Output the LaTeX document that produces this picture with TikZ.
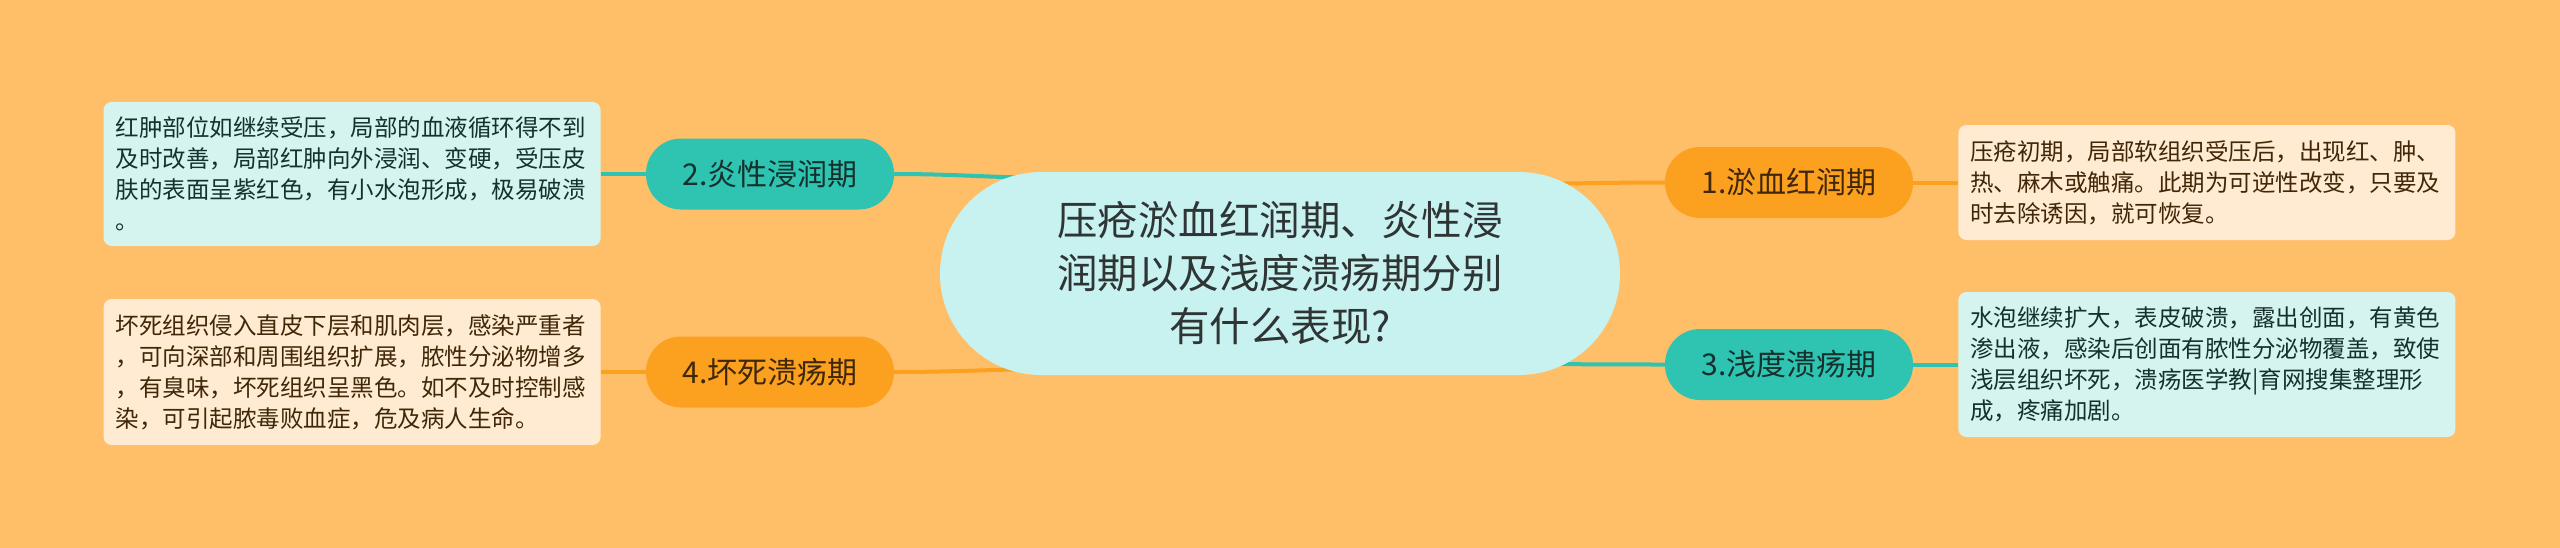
\documentclass[tikz,border=0pt]{standalone}
\usepackage{fontspec}
\newfontfamily\cjk{Noto Sans CJK SC}
\usepackage{xcolor}
\usepackage{tikz}
\usetikzlibrary{positioning}

\definecolor{bgorange}{HTML}{FFBF69}
\definecolor{rootfill}{HTML}{C8F2EF}
\definecolor{tealfill}{HTML}{2EC4B1}
\definecolor{orangefill}{HTML}{FCA020}
\definecolor{tealboxfill}{HTML}{D5F4F0}
\definecolor{orangeboxfill}{HTML}{FFEBD1}
\definecolor{tealtext}{HTML}{15302D}
\definecolor{orangetext}{HTML}{3F2708}
\definecolor{roottext}{HTML}{2F3435}

\pgfdeclarelayer{bg}
\pgfdeclarelayer{edges}
\pgfsetlayers{bg,edges,main}

\begin{document}
\begin{tikzpicture}[x=1pt, y=-1pt,
	rootnode/.style={fill=rootfill, text=roottext, rounded corners=101pt, minimum width=680pt, minimum height=203pt, align=center, font=\cjk\fontsize{40.5pt}{53pt}\selectfont},
	tealnode/.style={fill=tealfill, text=tealtext, rounded corners=35pt, minimum width=248pt, minimum height=71pt, font=\cjk\fontsize{30pt}{36pt}\selectfont},
	orangenode/.style={fill=orangefill, text=orangetext, rounded corners=35pt, minimum width=248pt, minimum height=71pt, font=\cjk\fontsize{30pt}{36pt}\selectfont},
	tealbox/.style={fill=tealboxfill, text=tealtext, rounded corners=8pt, text width=473pt, inner xsep=12pt, align=left, font=\cjk\fontsize{23.5pt}{31pt}\selectfont},
	orangebox/.style={fill=orangeboxfill, text=orangetext, rounded corners=8pt, text width=473pt, inner xsep=12pt, align=left, font=\cjk\fontsize{23.5pt}{31pt}\selectfont},
	tealline/.style={draw=tealfill, line width=4pt},
	orangeline/.style={draw=orangefill, line width=4pt}]
	\useasboundingbox (0,0) rectangle (2560,547);
	\begin{pgfonlayer}{bg}
		\fill[bgorange] (-5,-5) rectangle (2565,552);
	\end{pgfonlayer}
	\node[rootnode] (root) at (1280,273.5) {压疮淤血红润期、炎性浸\\润期以及浅度溃疡期分别\\有什么表现?};
	\node[tealnode] (infl) at (770,174) {2.炎性浸润期};
	\node[orangenode] (necr) at (770,372) {4.坏死溃疡期};
	\node[orangenode] (congest) at (1789,182.5) {1.淤血红润期};
	\node[tealnode] (ulcer) at (1789,364.5) {3.浅度溃疡期};
	\node[tealbox, minimum height=144pt, left=45pt of infl] (infltext) {红肿部位如继续受压，局部的血液循环得不到\\及时改善，局部红肿向外浸润、变硬，受压皮\\肤的表面呈紫红色，有小水泡形成，极易破溃\\。};
	\node[orangebox, minimum height=146pt, left=45pt of necr] (necrtext) {坏死组织侵入直皮下层和肌肉层，感染严重者\\，可向深部和周围组织扩展，脓性分泌物增多\\，有臭味，坏死组织呈黑色。如不及时控制感\\染，可引起脓毒败血症，危及病人生命。};
	\node[orangebox, minimum height=115pt, right=45pt of congest] (congesttext) {压疮初期，局部软组织受压后，出现红、肿、\\热、麻木或触痛。此期为可逆性改变，只要及\\时去除诱因，就可恢复。};
	\node[tealbox, minimum height=145pt, right=45pt of ulcer] (ulcertext) {水泡继续扩大，表皮破溃，露出创面，有黄色\\渗出液，感染后创面有脓性分泌物覆盖，致使\\浅层组织坏死，溃疡医学教|育网搜集整理形\\成，疼痛加剧。};
	\coordinate (rinfl) at (1060,178);
	\coordinate (rnecr) at (1060,369);
	\coordinate (rcongest) at (1500,184);
	\coordinate (rulcer) at (1500,364);
	\begin{pgfonlayer}{edges}
		\draw[tealline] (infltext.east) -- (infl.west);
		\draw[orangeline] (necrtext.east) -- (necr.west);
		\draw[orangeline] (congest.east) -- (congesttext.west);
		\draw[tealline] (ulcer.east) -- (ulcertext.west);
		\draw[tealline] (infl.east) to[out=0, in=180] (rinfl);
		\draw[orangeline] (necr.east) to[out=0, in=180] (rnecr);
		\draw[orangeline] (rcongest) to[out=0, in=180] (congest.west);
		\draw[tealline] (rulcer) to[out=0, in=180] (ulcer.west);
	\end{pgfonlayer}
\end{tikzpicture}
\end{document}
